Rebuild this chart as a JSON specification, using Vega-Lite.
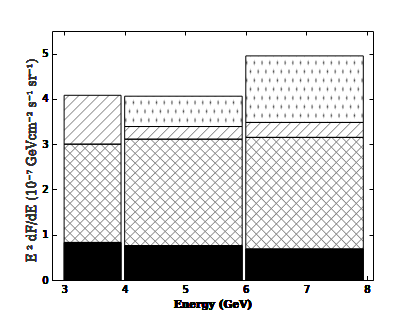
{
"$schema": "https://vega.github.io/schema/vega-lite/v6.json",
"width": 321, "height": 249,
"autosize": {"type": "none"},
"padding": {"left": 52, "top": 31, "right": 42, "bottom": 33},
"background": "white",
"config": {"view": {"stroke": "black", "strokeWidth": 1}},
"data": {"values": [
{"bin": 1, "x0": 3.0, "x1": 3.94, "part": "base", "lo": 0, "hi": 0.83},
{"bin": 1, "x0": 3.0, "x1": 3.94, "part": "cross", "lo": 0.83, "hi": 3.0},
{"bin": 1, "x0": 3.0, "x1": 3.94, "part": "diag", "lo": 3.0, "hi": 4.08},
{"bin": 2, "x0": 4.0, "x1": 5.94, "part": "base", "lo": 0, "hi": 0.76},
{"bin": 2, "x0": 4.0, "x1": 5.94, "part": "cross", "lo": 0.76, "hi": 3.11},
{"bin": 2, "x0": 4.0, "x1": 5.94, "part": "diag", "lo": 3.11, "hi": 3.39},
{"bin": 2, "x0": 4.0, "x1": 5.94, "part": "circ", "lo": 3.39, "hi": 4.06},
{"bin": 3, "x0": 6.0, "x1": 7.94, "part": "base", "lo": 0, "hi": 0.685},
{"bin": 3, "x0": 6.0, "x1": 7.94, "part": "cross", "lo": 0.685, "hi": 3.15},
{"bin": 3, "x0": 6.0, "x1": 7.94, "part": "diag", "lo": 3.15, "hi": 3.48},
{"bin": 3, "x0": 6.0, "x1": 7.94, "part": "circ", "lo": 3.48, "hi": 4.95}
]},
"encoding": {
"x": {"field": "x0", "type": "quantitative", "scale": {"domain": [2.8, 8.1], "nice": false, "zero": false},
 "axis": {"orient": "bottom", "values": [3, 4, 5, 6, 7, 8], "title": "Energy (GeV)", "grid": false, "domain": false, "tickSize": -4, "tickColor": "black", "labelPadding": 8, "labelFont": "DejaVu Sans", "labelFontSize": 10, "labelColor": "black", "titleFont": "DejaVu Serif", "titleFontWeight": "bold", "titleFontSize": 10.5, "titleColor": "black", "titleY": 19, "titleBaseline": "top"}},
"x2": {"field": "x1"},
"y": {"field": "lo", "type": "quantitative", "scale": {"domain": [0, 5.5], "nice": false},
 "axis": {"orient": "left", "values": [0, 1, 2, 3, 4, 5], "title": "E ² dF/dE (10⁻⁷ GeVcm⁻² s⁻¹ sr⁻¹)", "grid": false, "domain": false, "tickSize": -4, "tickColor": "black", "labelPadding": 8, "labelFont": "DejaVu Sans", "labelFontSize": 10, "labelColor": "black", "titleFont": "DejaVu Serif", "titleFontWeight": 400, "titleFontSize": 12, "titleColor": "#333333", "titleX": -14, "titleY": 129}},
"y2": {"field": "hi"}
},
"layer": [
{"transform": [{"filter": "datum.part == 'base'"}], "mark": {"type": "rect", "fill": "black", "stroke": "black", "strokeWidth": 1}},
{"transform": [{"filter": "datum.part != 'base'"}], "mark": {"type": "rect", "fill": "white"}},
{"transform": [{"filter": "datum.part == 'cross' && datum.bin == 1"}], "mark": {"type": "rect", "fill": {"gradient": "linear", "x1": 0, "y1": 0, "x2": 1.1048, "y2": 1.9053, "stops": [
{"offset":0.0152,"color":"rgba(136,136,136,0)"},{"offset":0.02,"color":"#888888"},{"offset":0.0248,"color":"rgba(136,136,136,0)"},
{"offset":0.0552,"color":"rgba(136,136,136,0)"},{"offset":0.06,"color":"#888888"},{"offset":0.0648,"color":"rgba(136,136,136,0)"},
{"offset":0.0952,"color":"rgba(136,136,136,0)"},{"offset":0.10,"color":"#888888"},{"offset":0.1048,"color":"rgba(136,136,136,0)"},
{"offset":0.1352,"color":"rgba(136,136,136,0)"},{"offset":0.14,"color":"#888888"},{"offset":0.1448,"color":"rgba(136,136,136,0)"},
{"offset":0.1752,"color":"rgba(136,136,136,0)"},{"offset":0.18,"color":"#888888"},{"offset":0.1848,"color":"rgba(136,136,136,0)"},
{"offset":0.2152,"color":"rgba(136,136,136,0)"},{"offset":0.22,"color":"#888888"},{"offset":0.2248,"color":"rgba(136,136,136,0)"},
{"offset":0.2552,"color":"rgba(136,136,136,0)"},{"offset":0.26,"color":"#888888"},{"offset":0.2648,"color":"rgba(136,136,136,0)"},
{"offset":0.2952,"color":"rgba(136,136,136,0)"},{"offset":0.30,"color":"#888888"},{"offset":0.3048,"color":"rgba(136,136,136,0)"},
{"offset":0.3352,"color":"rgba(136,136,136,0)"},{"offset":0.34,"color":"#888888"},{"offset":0.3448,"color":"rgba(136,136,136,0)"},
{"offset":0.3752,"color":"rgba(136,136,136,0)"},{"offset":0.38,"color":"#888888"},{"offset":0.3848,"color":"rgba(136,136,136,0)"},
{"offset":0.4152,"color":"rgba(136,136,136,0)"},{"offset":0.42,"color":"#888888"},{"offset":0.4248,"color":"rgba(136,136,136,0)"},
{"offset":0.4552,"color":"rgba(136,136,136,0)"},{"offset":0.46,"color":"#888888"},{"offset":0.4648,"color":"rgba(136,136,136,0)"},
{"offset":0.4952,"color":"rgba(136,136,136,0)"},{"offset":0.50,"color":"#888888"},{"offset":0.5048,"color":"rgba(136,136,136,0)"},
{"offset":0.5352,"color":"rgba(136,136,136,0)"},{"offset":0.54,"color":"#888888"},{"offset":0.5448,"color":"rgba(136,136,136,0)"},
{"offset":0.5752,"color":"rgba(136,136,136,0)"},{"offset":0.58,"color":"#888888"},{"offset":0.5848,"color":"rgba(136,136,136,0)"},
{"offset":0.6152,"color":"rgba(136,136,136,0)"},{"offset":0.62,"color":"#888888"},{"offset":0.6248,"color":"rgba(136,136,136,0)"}
]}}},
{"transform": [{"filter": "datum.part == 'cross' && datum.bin == 1"}], "mark": {"type": "rect", "fill": {"gradient": "linear", "x1": 0, "y1": 1, "x2": 1.1048, "y2": -0.9053, "stops": [
{"offset":0.0152,"color":"rgba(136,136,136,0)"},{"offset":0.02,"color":"#888888"},{"offset":0.0248,"color":"rgba(136,136,136,0)"},
{"offset":0.0552,"color":"rgba(136,136,136,0)"},{"offset":0.06,"color":"#888888"},{"offset":0.0648,"color":"rgba(136,136,136,0)"},
{"offset":0.0952,"color":"rgba(136,136,136,0)"},{"offset":0.10,"color":"#888888"},{"offset":0.1048,"color":"rgba(136,136,136,0)"},
{"offset":0.1352,"color":"rgba(136,136,136,0)"},{"offset":0.14,"color":"#888888"},{"offset":0.1448,"color":"rgba(136,136,136,0)"},
{"offset":0.1752,"color":"rgba(136,136,136,0)"},{"offset":0.18,"color":"#888888"},{"offset":0.1848,"color":"rgba(136,136,136,0)"},
{"offset":0.2152,"color":"rgba(136,136,136,0)"},{"offset":0.22,"color":"#888888"},{"offset":0.2248,"color":"rgba(136,136,136,0)"},
{"offset":0.2552,"color":"rgba(136,136,136,0)"},{"offset":0.26,"color":"#888888"},{"offset":0.2648,"color":"rgba(136,136,136,0)"},
{"offset":0.2952,"color":"rgba(136,136,136,0)"},{"offset":0.30,"color":"#888888"},{"offset":0.3048,"color":"rgba(136,136,136,0)"},
{"offset":0.3352,"color":"rgba(136,136,136,0)"},{"offset":0.34,"color":"#888888"},{"offset":0.3448,"color":"rgba(136,136,136,0)"},
{"offset":0.3752,"color":"rgba(136,136,136,0)"},{"offset":0.38,"color":"#888888"},{"offset":0.3848,"color":"rgba(136,136,136,0)"},
{"offset":0.4152,"color":"rgba(136,136,136,0)"},{"offset":0.42,"color":"#888888"},{"offset":0.4248,"color":"rgba(136,136,136,0)"},
{"offset":0.4552,"color":"rgba(136,136,136,0)"},{"offset":0.46,"color":"#888888"},{"offset":0.4648,"color":"rgba(136,136,136,0)"},
{"offset":0.4952,"color":"rgba(136,136,136,0)"},{"offset":0.50,"color":"#888888"},{"offset":0.5048,"color":"rgba(136,136,136,0)"},
{"offset":0.5352,"color":"rgba(136,136,136,0)"},{"offset":0.54,"color":"#888888"},{"offset":0.5448,"color":"rgba(136,136,136,0)"},
{"offset":0.5752,"color":"rgba(136,136,136,0)"},{"offset":0.58,"color":"#888888"},{"offset":0.5848,"color":"rgba(136,136,136,0)"},
{"offset":0.6152,"color":"rgba(136,136,136,0)"},{"offset":0.62,"color":"#888888"},{"offset":0.6248,"color":"rgba(136,136,136,0)"}
]}}},
{"transform": [{"filter": "datum.part == 'cross' && datum.bin >= 2"}], "mark": {"type": "rect", "fill": {"gradient": "linear", "x1": 0, "y1": 0, "x2": 1.1436, "y2": 1.0609, "stops": [
{"offset":0.0152,"color":"rgba(136,136,136,0)"},{"offset":0.02,"color":"#888888"},{"offset":0.0248,"color":"rgba(136,136,136,0)"},
{"offset":0.0552,"color":"rgba(136,136,136,0)"},{"offset":0.06,"color":"#888888"},{"offset":0.0648,"color":"rgba(136,136,136,0)"},
{"offset":0.0952,"color":"rgba(136,136,136,0)"},{"offset":0.10,"color":"#888888"},{"offset":0.1048,"color":"rgba(136,136,136,0)"},
{"offset":0.1352,"color":"rgba(136,136,136,0)"},{"offset":0.14,"color":"#888888"},{"offset":0.1448,"color":"rgba(136,136,136,0)"},
{"offset":0.1752,"color":"rgba(136,136,136,0)"},{"offset":0.18,"color":"#888888"},{"offset":0.1848,"color":"rgba(136,136,136,0)"},
{"offset":0.2152,"color":"rgba(136,136,136,0)"},{"offset":0.22,"color":"#888888"},{"offset":0.2248,"color":"rgba(136,136,136,0)"},
{"offset":0.2552,"color":"rgba(136,136,136,0)"},{"offset":0.26,"color":"#888888"},{"offset":0.2648,"color":"rgba(136,136,136,0)"},
{"offset":0.2952,"color":"rgba(136,136,136,0)"},{"offset":0.30,"color":"#888888"},{"offset":0.3048,"color":"rgba(136,136,136,0)"},
{"offset":0.3352,"color":"rgba(136,136,136,0)"},{"offset":0.34,"color":"#888888"},{"offset":0.3448,"color":"rgba(136,136,136,0)"},
{"offset":0.3752,"color":"rgba(136,136,136,0)"},{"offset":0.38,"color":"#888888"},{"offset":0.3848,"color":"rgba(136,136,136,0)"},
{"offset":0.4152,"color":"rgba(136,136,136,0)"},{"offset":0.42,"color":"#888888"},{"offset":0.4248,"color":"rgba(136,136,136,0)"},
{"offset":0.4552,"color":"rgba(136,136,136,0)"},{"offset":0.46,"color":"#888888"},{"offset":0.4648,"color":"rgba(136,136,136,0)"},
{"offset":0.4952,"color":"rgba(136,136,136,0)"},{"offset":0.50,"color":"#888888"},{"offset":0.5048,"color":"rgba(136,136,136,0)"},
{"offset":0.5352,"color":"rgba(136,136,136,0)"},{"offset":0.54,"color":"#888888"},{"offset":0.5448,"color":"rgba(136,136,136,0)"},
{"offset":0.5752,"color":"rgba(136,136,136,0)"},{"offset":0.58,"color":"#888888"},{"offset":0.5848,"color":"rgba(136,136,136,0)"},
{"offset":0.6152,"color":"rgba(136,136,136,0)"},{"offset":0.62,"color":"#888888"},{"offset":0.6248,"color":"rgba(136,136,136,0)"},
{"offset":0.6552,"color":"rgba(136,136,136,0)"},{"offset":0.66,"color":"#888888"},{"offset":0.6648,"color":"rgba(136,136,136,0)"},
{"offset":0.6952,"color":"rgba(136,136,136,0)"},{"offset":0.70,"color":"#888888"},{"offset":0.7048,"color":"rgba(136,136,136,0)"},
{"offset":0.7352,"color":"rgba(136,136,136,0)"},{"offset":0.74,"color":"#888888"},{"offset":0.7448,"color":"rgba(136,136,136,0)"},
{"offset":0.7752,"color":"rgba(136,136,136,0)"},{"offset":0.78,"color":"#888888"},{"offset":0.7848,"color":"rgba(136,136,136,0)"},
{"offset":0.8152,"color":"rgba(136,136,136,0)"},{"offset":0.82,"color":"#888888"},{"offset":0.8248,"color":"rgba(136,136,136,0)"},
{"offset":0.8552,"color":"rgba(136,136,136,0)"},{"offset":0.86,"color":"#888888"},{"offset":0.8648,"color":"rgba(136,136,136,0)"},
{"offset":0.8952,"color":"rgba(136,136,136,0)"},{"offset":0.90,"color":"#888888"},{"offset":0.9048,"color":"rgba(136,136,136,0)"}
]}}},
{"transform": [{"filter": "datum.part == 'cross' && datum.bin >= 2"}], "mark": {"type": "rect", "fill": {"gradient": "linear", "x1": 0, "y1": 1, "x2": 1.1436, "y2": -0.0609, "stops": [
{"offset":0.0152,"color":"rgba(136,136,136,0)"},{"offset":0.02,"color":"#888888"},{"offset":0.0248,"color":"rgba(136,136,136,0)"},
{"offset":0.0552,"color":"rgba(136,136,136,0)"},{"offset":0.06,"color":"#888888"},{"offset":0.0648,"color":"rgba(136,136,136,0)"},
{"offset":0.0952,"color":"rgba(136,136,136,0)"},{"offset":0.10,"color":"#888888"},{"offset":0.1048,"color":"rgba(136,136,136,0)"},
{"offset":0.1352,"color":"rgba(136,136,136,0)"},{"offset":0.14,"color":"#888888"},{"offset":0.1448,"color":"rgba(136,136,136,0)"},
{"offset":0.1752,"color":"rgba(136,136,136,0)"},{"offset":0.18,"color":"#888888"},{"offset":0.1848,"color":"rgba(136,136,136,0)"},
{"offset":0.2152,"color":"rgba(136,136,136,0)"},{"offset":0.22,"color":"#888888"},{"offset":0.2248,"color":"rgba(136,136,136,0)"},
{"offset":0.2552,"color":"rgba(136,136,136,0)"},{"offset":0.26,"color":"#888888"},{"offset":0.2648,"color":"rgba(136,136,136,0)"},
{"offset":0.2952,"color":"rgba(136,136,136,0)"},{"offset":0.30,"color":"#888888"},{"offset":0.3048,"color":"rgba(136,136,136,0)"},
{"offset":0.3352,"color":"rgba(136,136,136,0)"},{"offset":0.34,"color":"#888888"},{"offset":0.3448,"color":"rgba(136,136,136,0)"},
{"offset":0.3752,"color":"rgba(136,136,136,0)"},{"offset":0.38,"color":"#888888"},{"offset":0.3848,"color":"rgba(136,136,136,0)"},
{"offset":0.4152,"color":"rgba(136,136,136,0)"},{"offset":0.42,"color":"#888888"},{"offset":0.4248,"color":"rgba(136,136,136,0)"},
{"offset":0.4552,"color":"rgba(136,136,136,0)"},{"offset":0.46,"color":"#888888"},{"offset":0.4648,"color":"rgba(136,136,136,0)"},
{"offset":0.4952,"color":"rgba(136,136,136,0)"},{"offset":0.50,"color":"#888888"},{"offset":0.5048,"color":"rgba(136,136,136,0)"},
{"offset":0.5352,"color":"rgba(136,136,136,0)"},{"offset":0.54,"color":"#888888"},{"offset":0.5448,"color":"rgba(136,136,136,0)"},
{"offset":0.5752,"color":"rgba(136,136,136,0)"},{"offset":0.58,"color":"#888888"},{"offset":0.5848,"color":"rgba(136,136,136,0)"},
{"offset":0.6152,"color":"rgba(136,136,136,0)"},{"offset":0.62,"color":"#888888"},{"offset":0.6248,"color":"rgba(136,136,136,0)"},
{"offset":0.6552,"color":"rgba(136,136,136,0)"},{"offset":0.66,"color":"#888888"},{"offset":0.6648,"color":"rgba(136,136,136,0)"},
{"offset":0.6952,"color":"rgba(136,136,136,0)"},{"offset":0.70,"color":"#888888"},{"offset":0.7048,"color":"rgba(136,136,136,0)"},
{"offset":0.7352,"color":"rgba(136,136,136,0)"},{"offset":0.74,"color":"#888888"},{"offset":0.7448,"color":"rgba(136,136,136,0)"},
{"offset":0.7752,"color":"rgba(136,136,136,0)"},{"offset":0.78,"color":"#888888"},{"offset":0.7848,"color":"rgba(136,136,136,0)"},
{"offset":0.8152,"color":"rgba(136,136,136,0)"},{"offset":0.82,"color":"#888888"},{"offset":0.8248,"color":"rgba(136,136,136,0)"},
{"offset":0.8552,"color":"rgba(136,136,136,0)"},{"offset":0.86,"color":"#888888"},{"offset":0.8648,"color":"rgba(136,136,136,0)"},
{"offset":0.8952,"color":"rgba(136,136,136,0)"},{"offset":0.90,"color":"#888888"},{"offset":0.9048,"color":"rgba(136,136,136,0)"}
]}}},
{"transform": [{"filter": "datum.part == 'diag' && datum.bin == 1"}], "mark": {"type": "rect", "fill": {"gradient": "linear", "x1": 0, "y1": 0, "x2": 2.5271, "y2": 2.1702, "stops": [
{"offset":0.0152,"color":"rgba(136,136,136,0)"},{"offset":0.02,"color":"#888888"},{"offset":0.0248,"color":"rgba(136,136,136,0)"},
{"offset":0.0552,"color":"rgba(136,136,136,0)"},{"offset":0.06,"color":"#888888"},{"offset":0.0648,"color":"rgba(136,136,136,0)"},
{"offset":0.0952,"color":"rgba(136,136,136,0)"},{"offset":0.10,"color":"#888888"},{"offset":0.1048,"color":"rgba(136,136,136,0)"},
{"offset":0.1352,"color":"rgba(136,136,136,0)"},{"offset":0.14,"color":"#888888"},{"offset":0.1448,"color":"rgba(136,136,136,0)"},
{"offset":0.1752,"color":"rgba(136,136,136,0)"},{"offset":0.18,"color":"#888888"},{"offset":0.1848,"color":"rgba(136,136,136,0)"},
{"offset":0.2152,"color":"rgba(136,136,136,0)"},{"offset":0.22,"color":"#888888"},{"offset":0.2248,"color":"rgba(136,136,136,0)"},
{"offset":0.2552,"color":"rgba(136,136,136,0)"},{"offset":0.26,"color":"#888888"},{"offset":0.2648,"color":"rgba(136,136,136,0)"},
{"offset":0.2952,"color":"rgba(136,136,136,0)"},{"offset":0.30,"color":"#888888"},{"offset":0.3048,"color":"rgba(136,136,136,0)"},
{"offset":0.3352,"color":"rgba(136,136,136,0)"},{"offset":0.34,"color":"#888888"},{"offset":0.3448,"color":"rgba(136,136,136,0)"},
{"offset":0.3752,"color":"rgba(136,136,136,0)"},{"offset":0.38,"color":"#888888"},{"offset":0.3848,"color":"rgba(136,136,136,0)"},
{"offset":0.4152,"color":"rgba(136,136,136,0)"},{"offset":0.42,"color":"#888888"},{"offset":0.4248,"color":"rgba(136,136,136,0)"}
]}}},
{"transform": [{"filter": "datum.part == 'diag' && datum.bin == 2"}], "mark": {"type": "rect", "fill": {"gradient": "linear", "x1": 0, "y1": 0, "x2": 2.1033, "y2": 0.2270, "stops": [
{"offset":0.0152,"color":"rgba(136,136,136,0)"},{"offset":0.02,"color":"#888888"},{"offset":0.0248,"color":"rgba(136,136,136,0)"},
{"offset":0.0552,"color":"rgba(136,136,136,0)"},{"offset":0.06,"color":"#888888"},{"offset":0.0648,"color":"rgba(136,136,136,0)"},
{"offset":0.0952,"color":"rgba(136,136,136,0)"},{"offset":0.10,"color":"#888888"},{"offset":0.1048,"color":"rgba(136,136,136,0)"},
{"offset":0.1352,"color":"rgba(136,136,136,0)"},{"offset":0.14,"color":"#888888"},{"offset":0.1448,"color":"rgba(136,136,136,0)"},
{"offset":0.1752,"color":"rgba(136,136,136,0)"},{"offset":0.18,"color":"#888888"},{"offset":0.1848,"color":"rgba(136,136,136,0)"},
{"offset":0.2152,"color":"rgba(136,136,136,0)"},{"offset":0.22,"color":"#888888"},{"offset":0.2248,"color":"rgba(136,136,136,0)"},
{"offset":0.2552,"color":"rgba(136,136,136,0)"},{"offset":0.26,"color":"#888888"},{"offset":0.2648,"color":"rgba(136,136,136,0)"},
{"offset":0.2952,"color":"rgba(136,136,136,0)"},{"offset":0.30,"color":"#888888"},{"offset":0.3048,"color":"rgba(136,136,136,0)"},
{"offset":0.3352,"color":"rgba(136,136,136,0)"},{"offset":0.34,"color":"#888888"},{"offset":0.3448,"color":"rgba(136,136,136,0)"},
{"offset":0.3752,"color":"rgba(136,136,136,0)"},{"offset":0.38,"color":"#888888"},{"offset":0.3848,"color":"rgba(136,136,136,0)"},
{"offset":0.4152,"color":"rgba(136,136,136,0)"},{"offset":0.42,"color":"#888888"},{"offset":0.4248,"color":"rgba(136,136,136,0)"},
{"offset":0.4552,"color":"rgba(136,136,136,0)"},{"offset":0.46,"color":"#888888"},{"offset":0.4648,"color":"rgba(136,136,136,0)"},
{"offset":0.4952,"color":"rgba(136,136,136,0)"},{"offset":0.50,"color":"#888888"},{"offset":0.5048,"color":"rgba(136,136,136,0)"}
]}}},
{"transform": [{"filter": "datum.part == 'diag' && datum.bin == 3"}], "mark": {"type": "rect", "fill": {"gradient": "linear", "x1": 0, "y1": 0, "x2": 2.0939, "y2": 0.2662, "stops": [
{"offset":0.0152,"color":"rgba(136,136,136,0)"},{"offset":0.02,"color":"#888888"},{"offset":0.0248,"color":"rgba(136,136,136,0)"},
{"offset":0.0552,"color":"rgba(136,136,136,0)"},{"offset":0.06,"color":"#888888"},{"offset":0.0648,"color":"rgba(136,136,136,0)"},
{"offset":0.0952,"color":"rgba(136,136,136,0)"},{"offset":0.10,"color":"#888888"},{"offset":0.1048,"color":"rgba(136,136,136,0)"},
{"offset":0.1352,"color":"rgba(136,136,136,0)"},{"offset":0.14,"color":"#888888"},{"offset":0.1448,"color":"rgba(136,136,136,0)"},
{"offset":0.1752,"color":"rgba(136,136,136,0)"},{"offset":0.18,"color":"#888888"},{"offset":0.1848,"color":"rgba(136,136,136,0)"},
{"offset":0.2152,"color":"rgba(136,136,136,0)"},{"offset":0.22,"color":"#888888"},{"offset":0.2248,"color":"rgba(136,136,136,0)"},
{"offset":0.2552,"color":"rgba(136,136,136,0)"},{"offset":0.26,"color":"#888888"},{"offset":0.2648,"color":"rgba(136,136,136,0)"},
{"offset":0.2952,"color":"rgba(136,136,136,0)"},{"offset":0.30,"color":"#888888"},{"offset":0.3048,"color":"rgba(136,136,136,0)"},
{"offset":0.3352,"color":"rgba(136,136,136,0)"},{"offset":0.34,"color":"#888888"},{"offset":0.3448,"color":"rgba(136,136,136,0)"},
{"offset":0.3752,"color":"rgba(136,136,136,0)"},{"offset":0.38,"color":"#888888"},{"offset":0.3848,"color":"rgba(136,136,136,0)"},
{"offset":0.4152,"color":"rgba(136,136,136,0)"},{"offset":0.42,"color":"#888888"},{"offset":0.4248,"color":"rgba(136,136,136,0)"},
{"offset":0.4552,"color":"rgba(136,136,136,0)"},{"offset":0.46,"color":"#888888"},{"offset":0.4648,"color":"rgba(136,136,136,0)"},
{"offset":0.4952,"color":"rgba(136,136,136,0)"},{"offset":0.50,"color":"#888888"},{"offset":0.5048,"color":"rgba(136,136,136,0)"}
]}}},
{"transform": [{"filter": "datum.part == 'circ' && datum.bin == 2"}], "mark": {"type": "rect", "fill": {"gradient": "linear", "x1": 0, "y1": 1, "x2": 1.2942, "y2": 0.8538, "stops": [
{"offset":0.013,"color":"rgba(68,68,68,0)"},{"offset":0.025,"color":"#444444"},{"offset":0.037,"color":"rgba(68,68,68,0)"},
{"offset":0.063,"color":"rgba(68,68,68,0)"},{"offset":0.075,"color":"#444444"},{"offset":0.087,"color":"rgba(68,68,68,0)"},
{"offset":0.113,"color":"rgba(68,68,68,0)"},{"offset":0.125,"color":"#444444"},{"offset":0.137,"color":"rgba(68,68,68,0)"},
{"offset":0.163,"color":"rgba(68,68,68,0)"},{"offset":0.175,"color":"#444444"},{"offset":0.187,"color":"rgba(68,68,68,0)"},
{"offset":0.213,"color":"rgba(68,68,68,0)"},{"offset":0.225,"color":"#444444"},{"offset":0.237,"color":"rgba(68,68,68,0)"},
{"offset":0.263,"color":"rgba(68,68,68,0)"},{"offset":0.275,"color":"#444444"},{"offset":0.287,"color":"rgba(68,68,68,0)"},
{"offset":0.313,"color":"rgba(68,68,68,0)"},{"offset":0.325,"color":"#444444"},{"offset":0.337,"color":"rgba(68,68,68,0)"},
{"offset":0.363,"color":"rgba(68,68,68,0)"},{"offset":0.375,"color":"#444444"},{"offset":0.387,"color":"rgba(68,68,68,0)"},
{"offset":0.413,"color":"rgba(68,68,68,0)"},{"offset":0.425,"color":"#444444"},{"offset":0.437,"color":"rgba(68,68,68,0)"},
{"offset":0.463,"color":"rgba(68,68,68,0)"},{"offset":0.475,"color":"#444444"},{"offset":0.487,"color":"rgba(68,68,68,0)"},
{"offset":0.513,"color":"rgba(68,68,68,0)"},{"offset":0.525,"color":"#444444"},{"offset":0.537,"color":"rgba(68,68,68,0)"},
{"offset":0.563,"color":"rgba(68,68,68,0)"},{"offset":0.575,"color":"#444444"},{"offset":0.587,"color":"rgba(68,68,68,0)"},
{"offset":0.613,"color":"rgba(68,68,68,0)"},{"offset":0.625,"color":"#444444"},{"offset":0.637,"color":"rgba(68,68,68,0)"},
{"offset":0.663,"color":"rgba(68,68,68,0)"},{"offset":0.675,"color":"#444444"},{"offset":0.687,"color":"rgba(68,68,68,0)"},
{"offset":0.713,"color":"rgba(68,68,68,0)"},{"offset":0.725,"color":"#444444"},{"offset":0.737,"color":"rgba(68,68,68,0)"},
{"offset":0.763,"color":"rgba(68,68,68,0)"},{"offset":0.775,"color":"#444444"},{"offset":0.787,"color":"rgba(68,68,68,0)"},
{"offset":0.813,"color":"rgba(68,68,68,0)"},{"offset":0.825,"color":"#444444"},{"offset":0.837,"color":"rgba(68,68,68,0)"}
]}}},
{"transform": [{"filter": "datum.part == 'circ' && datum.bin == 2"}], "mark": {"type": "rect", "fill": {"gradient": "linear", "x1": 0, "y1": 0, "x2": 1.2942, "y2": 0.14615, "stops": [
{"offset":0.013,"color":"#ffffff"},{"offset":0.025,"color":"rgba(255,255,255,0)"},{"offset":0.037,"color":"#ffffff"},
{"offset":0.063,"color":"#ffffff"},{"offset":0.075,"color":"rgba(255,255,255,0)"},{"offset":0.087,"color":"#ffffff"},
{"offset":0.113,"color":"#ffffff"},{"offset":0.125,"color":"rgba(255,255,255,0)"},{"offset":0.137,"color":"#ffffff"},
{"offset":0.163,"color":"#ffffff"},{"offset":0.175,"color":"rgba(255,255,255,0)"},{"offset":0.187,"color":"#ffffff"},
{"offset":0.213,"color":"#ffffff"},{"offset":0.225,"color":"rgba(255,255,255,0)"},{"offset":0.237,"color":"#ffffff"},
{"offset":0.263,"color":"#ffffff"},{"offset":0.275,"color":"rgba(255,255,255,0)"},{"offset":0.287,"color":"#ffffff"},
{"offset":0.313,"color":"#ffffff"},{"offset":0.325,"color":"rgba(255,255,255,0)"},{"offset":0.337,"color":"#ffffff"},
{"offset":0.363,"color":"#ffffff"},{"offset":0.375,"color":"rgba(255,255,255,0)"},{"offset":0.387,"color":"#ffffff"},
{"offset":0.413,"color":"#ffffff"},{"offset":0.425,"color":"rgba(255,255,255,0)"},{"offset":0.437,"color":"#ffffff"},
{"offset":0.463,"color":"#ffffff"},{"offset":0.475,"color":"rgba(255,255,255,0)"},{"offset":0.487,"color":"#ffffff"},
{"offset":0.513,"color":"#ffffff"},{"offset":0.525,"color":"rgba(255,255,255,0)"},{"offset":0.537,"color":"#ffffff"},
{"offset":0.563,"color":"#ffffff"},{"offset":0.575,"color":"rgba(255,255,255,0)"},{"offset":0.587,"color":"#ffffff"},
{"offset":0.613,"color":"#ffffff"},{"offset":0.625,"color":"rgba(255,255,255,0)"},{"offset":0.637,"color":"#ffffff"},
{"offset":0.663,"color":"#ffffff"},{"offset":0.675,"color":"rgba(255,255,255,0)"},{"offset":0.687,"color":"#ffffff"},
{"offset":0.713,"color":"#ffffff"},{"offset":0.725,"color":"rgba(255,255,255,0)"},{"offset":0.737,"color":"#ffffff"},
{"offset":0.763,"color":"#ffffff"},{"offset":0.775,"color":"rgba(255,255,255,0)"},{"offset":0.787,"color":"#ffffff"},
{"offset":0.813,"color":"#ffffff"},{"offset":0.825,"color":"rgba(255,255,255,0)"},{"offset":0.837,"color":"#ffffff"}
]}}},
{"transform": [{"filter": "datum.part == 'circ' && datum.bin == 3"}], "mark": {"type": "rect", "fill": {"gradient": "linear", "x1": 0, "y1": 1, "x2": 1.2348, "y2": 0.6940, "stops": [
{"offset":0.013,"color":"rgba(68,68,68,0)"},{"offset":0.025,"color":"#444444"},{"offset":0.037,"color":"rgba(68,68,68,0)"},
{"offset":0.063,"color":"rgba(68,68,68,0)"},{"offset":0.075,"color":"#444444"},{"offset":0.087,"color":"rgba(68,68,68,0)"},
{"offset":0.113,"color":"rgba(68,68,68,0)"},{"offset":0.125,"color":"#444444"},{"offset":0.137,"color":"rgba(68,68,68,0)"},
{"offset":0.163,"color":"rgba(68,68,68,0)"},{"offset":0.175,"color":"#444444"},{"offset":0.187,"color":"rgba(68,68,68,0)"},
{"offset":0.213,"color":"rgba(68,68,68,0)"},{"offset":0.225,"color":"#444444"},{"offset":0.237,"color":"rgba(68,68,68,0)"},
{"offset":0.263,"color":"rgba(68,68,68,0)"},{"offset":0.275,"color":"#444444"},{"offset":0.287,"color":"rgba(68,68,68,0)"},
{"offset":0.313,"color":"rgba(68,68,68,0)"},{"offset":0.325,"color":"#444444"},{"offset":0.337,"color":"rgba(68,68,68,0)"},
{"offset":0.363,"color":"rgba(68,68,68,0)"},{"offset":0.375,"color":"#444444"},{"offset":0.387,"color":"rgba(68,68,68,0)"},
{"offset":0.413,"color":"rgba(68,68,68,0)"},{"offset":0.425,"color":"#444444"},{"offset":0.437,"color":"rgba(68,68,68,0)"},
{"offset":0.463,"color":"rgba(68,68,68,0)"},{"offset":0.475,"color":"#444444"},{"offset":0.487,"color":"rgba(68,68,68,0)"},
{"offset":0.513,"color":"rgba(68,68,68,0)"},{"offset":0.525,"color":"#444444"},{"offset":0.537,"color":"rgba(68,68,68,0)"},
{"offset":0.563,"color":"rgba(68,68,68,0)"},{"offset":0.575,"color":"#444444"},{"offset":0.587,"color":"rgba(68,68,68,0)"},
{"offset":0.613,"color":"rgba(68,68,68,0)"},{"offset":0.625,"color":"#444444"},{"offset":0.637,"color":"rgba(68,68,68,0)"},
{"offset":0.663,"color":"rgba(68,68,68,0)"},{"offset":0.675,"color":"#444444"},{"offset":0.687,"color":"rgba(68,68,68,0)"},
{"offset":0.713,"color":"rgba(68,68,68,0)"},{"offset":0.725,"color":"#444444"},{"offset":0.737,"color":"rgba(68,68,68,0)"},
{"offset":0.763,"color":"rgba(68,68,68,0)"},{"offset":0.775,"color":"#444444"},{"offset":0.787,"color":"rgba(68,68,68,0)"},
{"offset":0.813,"color":"rgba(68,68,68,0)"},{"offset":0.825,"color":"#444444"},{"offset":0.837,"color":"rgba(68,68,68,0)"},
{"offset":0.863,"color":"rgba(68,68,68,0)"},{"offset":0.875,"color":"#444444"},{"offset":0.887,"color":"rgba(68,68,68,0)"},
{"offset":0.913,"color":"rgba(68,68,68,0)"},{"offset":0.925,"color":"#444444"},{"offset":0.937,"color":"rgba(68,68,68,0)"}
]}}},
{"transform": [{"filter": "datum.part == 'circ' && datum.bin == 3"}], "mark": {"type": "rect", "fill": {"gradient": "linear", "x1": 0, "y1": 0, "x2": 1.2348, "y2": 0.3060, "stops": [
{"offset":0.013,"color":"#ffffff"},{"offset":0.025,"color":"rgba(255,255,255,0)"},{"offset":0.037,"color":"#ffffff"},
{"offset":0.063,"color":"#ffffff"},{"offset":0.075,"color":"rgba(255,255,255,0)"},{"offset":0.087,"color":"#ffffff"},
{"offset":0.113,"color":"#ffffff"},{"offset":0.125,"color":"rgba(255,255,255,0)"},{"offset":0.137,"color":"#ffffff"},
{"offset":0.163,"color":"#ffffff"},{"offset":0.175,"color":"rgba(255,255,255,0)"},{"offset":0.187,"color":"#ffffff"},
{"offset":0.213,"color":"#ffffff"},{"offset":0.225,"color":"rgba(255,255,255,0)"},{"offset":0.237,"color":"#ffffff"},
{"offset":0.263,"color":"#ffffff"},{"offset":0.275,"color":"rgba(255,255,255,0)"},{"offset":0.287,"color":"#ffffff"},
{"offset":0.313,"color":"#ffffff"},{"offset":0.325,"color":"rgba(255,255,255,0)"},{"offset":0.337,"color":"#ffffff"},
{"offset":0.363,"color":"#ffffff"},{"offset":0.375,"color":"rgba(255,255,255,0)"},{"offset":0.387,"color":"#ffffff"},
{"offset":0.413,"color":"#ffffff"},{"offset":0.425,"color":"rgba(255,255,255,0)"},{"offset":0.437,"color":"#ffffff"},
{"offset":0.463,"color":"#ffffff"},{"offset":0.475,"color":"rgba(255,255,255,0)"},{"offset":0.487,"color":"#ffffff"},
{"offset":0.513,"color":"#ffffff"},{"offset":0.525,"color":"rgba(255,255,255,0)"},{"offset":0.537,"color":"#ffffff"},
{"offset":0.563,"color":"#ffffff"},{"offset":0.575,"color":"rgba(255,255,255,0)"},{"offset":0.587,"color":"#ffffff"},
{"offset":0.613,"color":"#ffffff"},{"offset":0.625,"color":"rgba(255,255,255,0)"},{"offset":0.637,"color":"#ffffff"},
{"offset":0.663,"color":"#ffffff"},{"offset":0.675,"color":"rgba(255,255,255,0)"},{"offset":0.687,"color":"#ffffff"},
{"offset":0.713,"color":"#ffffff"},{"offset":0.725,"color":"rgba(255,255,255,0)"},{"offset":0.737,"color":"#ffffff"},
{"offset":0.763,"color":"#ffffff"},{"offset":0.775,"color":"rgba(255,255,255,0)"},{"offset":0.787,"color":"#ffffff"},
{"offset":0.813,"color":"#ffffff"},{"offset":0.825,"color":"rgba(255,255,255,0)"},{"offset":0.837,"color":"#ffffff"},
{"offset":0.863,"color":"#ffffff"},{"offset":0.875,"color":"rgba(255,255,255,0)"},{"offset":0.887,"color":"#ffffff"},
{"offset":0.913,"color":"#ffffff"},{"offset":0.925,"color":"rgba(255,255,255,0)"},{"offset":0.937,"color":"#ffffff"}
]}}},
{"mark": {"type": "rect", "fillOpacity": 0, "stroke": "black", "strokeWidth": 1}},
{"mark": {"type": "rect", "opacity": 0},
 "encoding": {
  "x": {"field": "x0", "type": "quantitative", "scale": {"domain": [2.8, 8.1], "nice": false, "zero": false},
   "axis": {"orient": "top", "values": [3, 4, 5, 6, 7, 8], "labels": false, "title": null, "grid": false, "domain": false, "tickSize": -4, "tickColor": "black"}},
  "y": {"field": "lo", "type": "quantitative", "scale": {"domain": [0, 5.5], "nice": false},
   "axis": {"orient": "right", "values": [0, 1, 2, 3, 4, 5], "labels": false, "title": null, "grid": false, "domain": false, "tickSize": -4, "tickColor": "black"}}
 }}
]
}
